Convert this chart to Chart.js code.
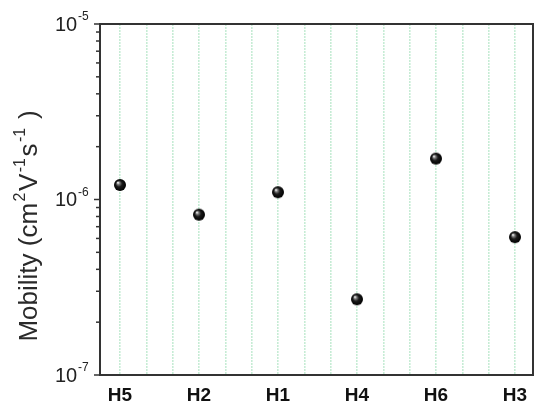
<!DOCTYPE html>
<html>
<head>
<meta charset="utf-8">
<script src="https://cdn.jsdelivr.net/npm/chart.js@4"></script>
<style>
  body { margin: 0; background: #fff; }
  #wrap { width: 550px; height: 412px; }
</style>
</head>
<body>
<div id="wrap"><canvas id="mob"></canvas></div>
<script>
// data
var categories = ["H5", "H2", "H1", "H4", "H6", "H3"];
var mobility = [1.21e-6, 0.82e-6, 1.10e-6, 0.27e-6, 1.71e-6, 0.61e-6];
var yExponents = [-7, -6, -5];

var FONT = "Arial, 'Liberation Sans', sans-serif";

// black glossy ball used as point style
function makeBall(r) {
  var c = document.createElement("canvas");
  c.width = c.height = r * 2 + 2;
  var g = c.getContext("2d");
  var cx = r + 1, cy = r + 1;
  var grad = g.createRadialGradient(cx - r * 0.35, cy - r * 0.4, 0.3, cx, cy, r);
  grad.addColorStop(0, "#f4f4f4");
  grad.addColorStop(0.22, "#777");
  grad.addColorStop(0.5, "#1a1a1a");
  grad.addColorStop(1, "#000");
  g.fillStyle = grad;
  g.beginPath();
  g.arc(cx, cy, r, 0, Math.PI * 2);
  g.fill();
  return c;
}
var ball = makeBall(6);

var points = mobility.map(function (v, i) { return { x: i, y: v }; });

// frame, y ticks, y labels and title
var decor = {
  id: "decor",
  afterDraw: function (chart) {
    var ctx = chart.ctx;
    var a = chart.chartArea;
    var ys = chart.scales.y;
    ctx.save();
    ctx.strokeStyle = "#333";
    ctx.lineWidth = 2;
    ctx.strokeRect(a.left, a.top, a.right - a.left, a.bottom - a.top);

    // log ticks on the left
    ctx.lineWidth = 1.5;
    for (var e = yExponents[0]; e < yExponents[yExponents.length - 1]; e++) {
      for (var m = 1; m < 10; m++) {
        var py = ys.getPixelForValue(m * Math.pow(10, e));
        var len = m === 1 ? 6 : 4;
        ctx.beginPath();
        ctx.moveTo(a.left - len, py);
        ctx.lineTo(a.left, py);
        ctx.stroke();
      }
    }
    var topPy = ys.getPixelForValue(Math.pow(10, yExponents[yExponents.length - 1]));
    ctx.beginPath();
    ctx.moveTo(a.left - 6, topPy);
    ctx.lineTo(a.left, topPy);
    ctx.stroke();

    // tick labels 10^n
    ctx.fillStyle = "#222";
    yExponents.forEach(function (ex) {
      var py = ys.getPixelForValue(Math.pow(10, ex));
      ctx.font = "20px " + FONT;
      ctx.textAlign = "left";
      ctx.textBaseline = "middle";
      ctx.fillText("10", 55, py + 1);
      ctx.font = "12px " + FONT;
      ctx.fillText(String(ex), 78, py - 7);
    });

    // rotated axis title with superscripts
    var parts = [
      ["Mobility (cm", false], ["2", true], ["V", false], ["-1", true],
      ["s", false], ["-1", true], [" )", false]
    ];
    var big = "26px " + FONT, small = "16px " + FONT;
    var gap = 1.5;
    var total = 0;
    parts.forEach(function (p) {
      ctx.font = p[1] ? small : big;
      total += ctx.measureText(p[0]).width + (p[1] ? gap * 2 : 0);
    });
    ctx.fillStyle = "#2a2a2a";
    ctx.translate(37, 226);
    ctx.rotate(-Math.PI / 2);
    var x = -total / 2;
    ctx.textAlign = "left";
    ctx.textBaseline = "alphabetic";
    parts.forEach(function (p) {
      ctx.font = p[1] ? small : big;
      if (p[1]) x += gap;
      ctx.fillText(p[0], x, p[1] ? -12 : 0);
      x += ctx.measureText(p[0]).width + (p[1] ? gap : 0);
    });
    ctx.restore();
  }
};

var ctx = document.getElementById("mob");
var myChart = new Chart(ctx, {
  type: "scatter",
  data: {
    datasets: [{
      label: "Mobility",
      data: points,
      pointStyle: ball,
      pointRadius: 6,
      pointHoverRadius: 6
    }]
  },
  options: {
    responsive: true,
    maintainAspectRatio: false,
    animation: false,
    layout: { padding: { top: 24, right: 17, left: 0, bottom: 0 } },
    plugins: { legend: { display: false }, tooltip: { enabled: false } },
    scales: {
      x: {
        type: "linear",
        min: -0.253,
        max: 5.228,
        afterBuildTicks: function (scale) {
          var t = [];
          for (var k = 0; k <= 15; k++) t.push({ value: k / 3 });
          scale.ticks = t;
        },
        afterFit: function (scale) { scale.height = 37; },
        grid: {
          color: "rgba(175,228,195,0.7)",
          lineWidth: 1.6,
          drawTicks: false
        },
        border: { display: false, dash: [2, 1] },
        ticks: {
          autoSkip: false,
          maxRotation: 0,
          padding: 9,
          color: "#111",
          font: { family: FONT, size: 19, weight: "bold" },
          callback: function (value) {
            var r = Math.round(value);
            return Math.abs(value - r) < 1e-6 ? categories[r] : "";
          }
        }
      },
      y: {
        type: "logarithmic",
        min: Math.pow(10, yExponents[0]),
        max: Math.pow(10, yExponents[yExponents.length - 1]),
        afterFit: function (scale) { scale.width = 100; },
        grid: { display: false },
        border: { display: false },
        ticks: { display: false }
      }
    }
  },
  plugins: [decor]
});
</script>
</body>
</html>
